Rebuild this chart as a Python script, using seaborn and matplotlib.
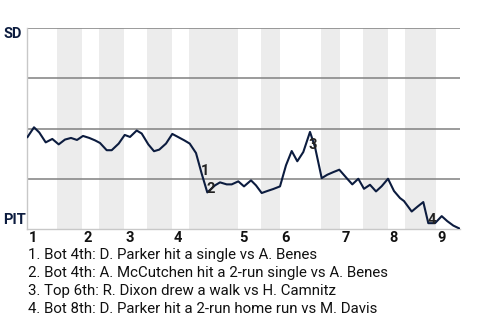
import matplotlib
matplotlib.use("Agg")
import matplotlib.pyplot as plt
import seaborn as sns
import pandas as pd

# Game progress (arbitrary units along the game) and SD win probability (%)
progress = [0.3, 7, 12.3, 18.7, 25.3, 31.7, 38, 44, 50, 56, 62.3, 68, 73, 79.7, 84.7,
            91.7, 97.7, 103, 109.7, 114.7, 121.3, 127, 132.3, 139, 145.3, 151.7, 157.3,
            162.7, 169, 174.7, 180.3, 188, 193, 199.7, 204.7, 211.3, 217, 224, 229,
            234.7, 240.3, 246.3, 253, 259, 264.7, 270.3, 276.3, 283, 288, 294.7, 300.3,
            306.3, 312.3, 319.7, 325.3, 331.3, 337, 343, 349, 354.7, 361, 367, 373, 377,
            384.7, 390.7, 396.3, 401.3, 408, 414.7, 420.3, 426.3, 433]
sd_win_pct = [45.6, 50.6, 48.0, 43.1, 44.8, 42.1, 44.5, 45.3, 44.3, 46.3, 45.3, 44.1,
              42.8, 39.2, 39.2, 42.5, 46.8, 45.8, 49.0, 47.5, 42.1, 38.7, 39.5, 42.5,
              47.3, 45.6, 44.1, 42.5, 37.8, 27.5, 18.2, 21.7, 23.2, 22.2, 22.2, 23.7,
              21.2, 24.2, 21.7, 17.9, 18.9, 19.9, 21.2, 31.7, 38.8, 33.7, 38.3, 48.3,
              40.8, 25.3, 27.0, 28.3, 29.5, 25.3, 22.2, 25.0, 20.0, 22.0, 18.7, 21.3,
              25.0, 18.9, 15.4, 13.9, 8.7, 11.2, 13.4, 2.9, 2.9, 6.4, 3.9, 1.7, 0.1]

# Inning boundaries (half innings) in progress units
half_inning_starts = [0, 30, 55, 72, 97, 120, 145, 162, 211, 234, 253, 294, 313, 336,
                      361, 378, 409]
game_end = 433
inning_labels = ["1", "2", "3", "4", "5", "6", "7", "8", "9"]

# Key events: index of play, label
event_idx = [29, 30, 48, 67]
event_labels = ["1", "2", "3", "4"]
event_text = [
    "1. Bot 4th: D. Parker hit a single vs A. Benes",
    "2. Bot 4th: A. McCutchen hit a 2-run single vs A. Benes",
    "3. Top 6th: R. Dixon drew a walk vs H. Camnitz",
    "4. Bot 8th: D. Parker hit a 2-run home run vs M. Davis",
]
team_top = "SD"
team_bottom = "PIT"

sns.set_style("white")
plt.rcParams["font.family"] = ["Roboto", "DejaVu Sans"]

navy = "#0c1c3f"
W, H = 480, 320
fig = plt.figure(figsize=(4.8, 3.2), dpi=100)
ax = fig.add_axes([27 / W, 1 - 229 / H, 433 / W, 201 / H])

df = pd.DataFrame({"progress": progress, "win": sd_win_pct})

# shaded bottom halves
bounds = half_inning_starts + [game_end]
for i in range(1, len(half_inning_starts), 2):
    ax.axvspan(bounds[i], bounds[i + 1], color="#ececec", lw=0, zorder=0)

for yv in [25, 50, 75, 100]:
    ax.axhline(yv, color="#808080", lw=1.1, zorder=1)

sns.lineplot(data=df, x="progress", y="win", ax=ax, color=navy, lw=1.5, zorder=3)

offsets = [(3, 3), (3, 3), (-2, 2), (3, 3)]
for idx, lab, (dx, dy) in zip(event_idx, event_labels, offsets):
    ax.annotate(lab, (progress[idx], sd_win_pct[idx]), xytext=(dx * 0.72, dy * 0.72),
                textcoords="offset points", ha="center", va="center",
                fontsize=10.5, fontweight="bold", color="#222222", zorder=4)

ax.set_xlim(0, game_end)
ax.set_ylim(0, 100)
ax.set_xticks([])
ax.set_yticks([])
ax.set_xlabel("")
ax.set_ylabel("")
for s in ["top", "right"]:
    ax.spines[s].set_visible(False)
ax.spines["left"].set_color("#c8c8c8")
ax.spines["bottom"].set_color("#c8c8c8")
ax.spines["left"].set_linewidth(1)
ax.spines["bottom"].set_linewidth(1)

# inning labels at start of each top half
for k, lab in enumerate(inning_labels):
    xs = half_inning_starts[2 * k]
    ax.text(xs + 1.5, -4.3, lab, ha="left", va="center", fontsize=10.5,
            fontweight="bold", color="#111111", transform=ax.transData, clip_on=False)

fig.text(3 / W, 1 - 34 / H, team_top, ha="left", va="center", fontsize=10.5,
         fontweight="bold", color=navy)
fig.text(3 / W, 1 - 220 / H, team_bottom, ha="left", va="center", fontsize=10.5,
         fontweight="bold", color=navy)

for i, t in enumerate(event_text):
    fig.text(28 / W, 1 - (255 + 18 * i) / H, t, ha="left", va="center",
             fontsize=10.8, color="#111111")

fig.savefig("out.png", dpi=100)
